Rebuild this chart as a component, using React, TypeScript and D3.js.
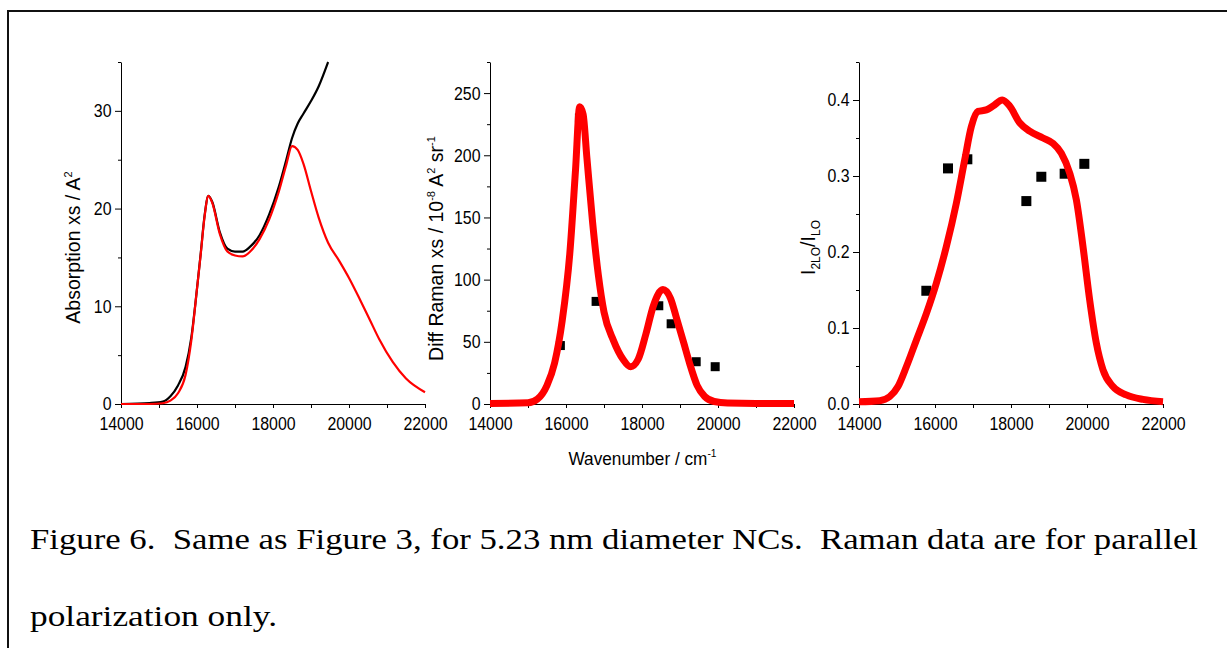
import { useEffect, useRef } from "react";
import * as d3 from "d3";

const W = 1227;
const H = 648;

// panel 1: absorption cross section (black = experiment, red = calculated)
const absWavenumber = [
  14000, 14750, 15100, 15300, 15500, 15700, 15850, 16000, 16100, 16200, 16300,
  16400, 16600, 16800, 17000, 17200, 17400, 17650, 17900, 18150, 18350, 18500,
  18650, 18800, 19000, 19200, 19450, 19750, 20000, 20300, 20550, 20800, 21150,
  21500, 22000,
];
const absExperiment: (number | null)[] = [
  0, 0.1, 0.25, 0.8, 1.9, 3.8, 6.8, 11.8, 15.5, 19.3, 21.3, 20.7, 17.6, 15.9,
  15.6, 15.6, 16.1, 17.3, 19.4, 22.2, 25.0, 27.2, 28.7, 29.7, 31.0, 32.5, 35.0,
  null, null, null, null, null, null, null, null,
];
const absCalculated = [
  0, 0, 0.08, 0.35, 1.1, 3.0, 6.5, 11.8, 15.4, 19.2, 21.3, 20.6, 17.4, 15.6,
  15.2, 15.1, 15.6, 16.9, 18.9, 21.7, 24.5, 26.4, 26.0, 24.6, 21.8, 19.1, 16.5,
  14.6, 12.9, 10.6, 8.6, 6.6, 4.3, 2.6, 1.2,
];

// panel 2: differential Raman cross section
const ramanWavenumber = [
  14000, 15000, 15250, 15500, 15700, 15900, 16100, 16250, 16360, 16450, 16550,
  16700, 16850, 17000, 17250, 17500, 17700, 17900, 18100, 18300, 18550, 18750,
  18900, 19100, 19250, 19450, 19650, 19900, 20250, 21000, 22000,
];
const ramanCalculated = [
  0.5, 1.0, 4, 15, 33, 67, 121, 188, 239, 233, 198, 146, 104, 74, 51, 36, 30,
  36, 56, 79, 92, 85, 70, 49, 33, 15, 6, 2, 0.8, 0.5, 0.5,
];
const ramanPointX = [15852, 16353, 16792, 18442, 18767, 19426, 19926];
const ramanPointY = [47, 230, 82.5, 79, 64.5, 34, 30];

// panel 3: I2LO / ILO ratio
const ratioWavenumber = [
  14000, 14544, 14807, 15026, 15246, 15509, 15772, 16035, 16298, 16561, 16781,
  16956, 17132, 17351, 17526, 17772, 17965, 18228, 18491, 18842, 19105, 19325,
  19544, 19719, 19895, 20070, 20246, 20421, 20684, 21035, 21474, 22000,
];
const ratioCalculated = [
  0.003, 0.0044, 0.0097, 0.023, 0.049, 0.084, 0.119, 0.159, 0.207, 0.264, 0.321,
  0.365, 0.385, 0.387, 0.392, 0.4, 0.392, 0.37, 0.359, 0.35, 0.343, 0.33, 0.304,
  0.269, 0.207, 0.137, 0.08, 0.045, 0.023, 0.012, 0.006, 0.003,
];
const ratioPointX = [15772, 16342, 16851, 18404, 18798, 19412, 19930];
const ratioPointY = [0.149, 0.31, 0.322, 0.267, 0.299, 0.303, 0.316];

const xTicks = [14000, 16000, 18000, 20000, 22000];
const xMinorTicks = [15000, 17000, 19000, 21000];
const absTicks = [0, 10, 20, 30];
const absMinorTicks = [5, 15, 25, 35];
const ramanTicks = [0, 50, 100, 150, 200, 250];
const ramanMinorTicks = [25, 75, 125, 175, 225, 275];
const ratioTicks = [0, 0.1, 0.2, 0.3, 0.4];
const ratioMinorTicks = [0.05, 0.15, 0.25, 0.35, 0.45];

const captionLines = [
  "Figure 6.  Same as Figure 3, for 5.23 nm diameter NCs.  Raman data are for parallel",
  "polarization only.",
];

const SANS = "Liberation Sans, Arimo, Arial, Helvetica, Roboto, sans-serif";
const SERIF = "Liberation Serif, Tinos, Times New Roman, Times, serif";

type TextSel = d3.Selection<SVGTextElement, unknown, null, undefined>;

export default function App() {
  const svgRef = useRef<SVGSVGElement>(null);

  useEffect(() => {
    const svg = d3.select(svgRef.current);
    svg.selectAll("*").remove();

    svg.append("rect").attr("width", W).attr("height", H).attr("fill", "#fff");

    // frame around the figure (only left and top edges visible)
    svg
      .append("path")
      .attr("d", `M8,${H} V11 H${W}`)
      .attr("fill", "none")
      .attr("stroke", "#111")
      .attr("stroke-width", 2);

    const drawPanel = (
      left: number,
      yMax: number,
      ticks: number[],
      minor: number[],
      fmt: (d: number) => string
    ) => {
      const x = d3.scaleLinear().domain([14000, 22000]).range([left, left + 304]);
      const y = d3.scaleLinear().domain([0, yMax]).range([404, 62]);

      // y axis
      const gy = svg
        .append("g")
        .attr("transform", `translate(${left},0)`)
        .attr("color", "#000");
      gy.call(
        d3
          .axisLeft(y)
          .tickValues(ticks)
          .tickSize(6)
          .tickSizeOuter(0)
          //@ts-ignore
          .tickFormat(fmt)
      );
      gy.selectAll("text")
        .attr("x", -11)
        .attr("transform", "scale(0.86,1)")
        .style("font-size", "18.5px")
        .style("font-family", SANS)
        .attr("fill", "#000");
      const gyMinor = svg
        .append("g")
        .attr("transform", `translate(${left},0)`)
        .attr("color", "#000");
      gyMinor.call(
        d3
          .axisLeft(y)
          .tickValues(minor)
          .tickSize(3)
          .tickFormat(() => "")
      );
      gyMinor.select(".domain").remove();
      gyMinor.selectAll("text").remove();

      // x axis
      const gx = svg
        .append("g")
        .attr("transform", "translate(0,404)")
        .attr("color", "#000");
      gx.call(
        d3
          .axisBottom(x)
          .tickValues(xTicks)
          .tickSize(4)
          .tickSizeOuter(0)
          //@ts-ignore
          .tickFormat(d3.format("d"))
      );
      gx.selectAll("text")
        .attr("y", 26.5)
        .attr("dy", 0)
        .attr("transform", "scale(0.86,1)")
        .style("font-size", "18.5px")
        .style("font-family", SANS)
        .attr("fill", "#000");
      const gxMinor = svg
        .append("g")
        .attr("transform", "translate(0,404)")
        .attr("color", "#000");
      gxMinor.call(
        d3
          .axisBottom(x)
          .tickValues(xMinorTicks)
          .tickSize(4)
          .tickFormat(() => "")
      );
      gxMinor.select(".domain").remove();
      gxMinor.selectAll("text").remove();

      return { x, y };
    };

    const lineOf = (
      x: d3.ScaleLinear<number, number>,
      y: d3.ScaleLinear<number, number>,
      xs: number[]
    ) =>
      d3
        .line<number | null>()
        .defined((d) => d !== null)
        .x((_, i) => x(xs[i]))
        .y((d) => y(d as number))
        .curve(d3.curveMonotoneX);

    // ---- panel 1
    const p1 = drawPanel(121, 35, absTicks, absMinorTicks, d3.format("d"));
    svg
      .append("path")
      .attr("d", lineOf(p1.x, p1.y, absWavenumber)(absExperiment))
      .attr("fill", "none")
      .attr("stroke", "#000")
      .attr("stroke-width", 2.2);
    svg
      .append("path")
      .attr("d", lineOf(p1.x, p1.y, absWavenumber)(absCalculated))
      .attr("fill", "none")
      .attr("stroke", "#ff0000")
      .attr("stroke-width", 2.2);

    // ---- panel 2
    const p2 = drawPanel(490, 275, ramanTicks, ramanMinorTicks, d3.format("d"));
    const s2 = 9;
    svg
      .append("g")
      .selectAll("rect")
      .data(ramanPointX)
      .join("rect")
      .attr("x", (d) => p2.x(d) - s2 / 2)
      .attr("y", (_, i) => p2.y(ramanPointY[i]) - s2 / 2)
      .attr("width", s2)
      .attr("height", s2)
      .attr("fill", "#000");
    svg
      .append("path")
      .attr("d", lineOf(p2.x, p2.y, ramanWavenumber)(ramanCalculated))
      .attr("fill", "none")
      .attr("stroke", "#ff0000")
      .attr("stroke-width", 7);

    // ---- panel 3
    const p3 = drawPanel(859, 0.45, ratioTicks, ratioMinorTicks, d3.format(".1f"));
    const s3 = 10;
    svg
      .append("g")
      .selectAll("rect")
      .data(ratioPointX)
      .join("rect")
      .attr("x", (d) => p3.x(d) - s3 / 2)
      .attr("y", (_, i) => p3.y(ratioPointY[i]) - s3 / 2)
      .attr("width", s3)
      .attr("height", s3)
      .attr("fill", "#000");
    svg
      .append("path")
      .attr("d", lineOf(p3.x, p3.y, ratioWavenumber)(ratioCalculated))
      .attr("fill", "none")
      .attr("stroke", "#ff0000")
      .attr("stroke-width", 7);

    // ---- axis titles
    const title = (tx: number, ty: number, rotate: boolean, sx = 1, fs = 19.5) =>
      svg
        .append("text")
        .attr(
          "transform",
          `translate(${tx},${ty}) ${rotate ? "rotate(-90)" : ""} scale(${sx},1)`
        )
        .attr("text-anchor", "middle")
        .style("font-family", SANS)
        .style("font-size", `${fs}px`)
        .attr("fill", "#000");

    // runs of [text, shift]: shift -1 = superscript, 1 = subscript, 0 = normal
    const runs = (t: TextSel, parts: [string, number][]) => {
      let cur = 0;
      parts.forEach(([s, shift]) => {
        const target = shift === -1 ? -8 : shift === 1 ? 5 : 0;
        const ts = t.append("tspan").attr("dy", target - cur).text(s);
        if (shift !== 0) ts.style("font-size", shift === -1 ? "11px" : "12px");
        cur = target;
      });
    };

    runs(title(80, 247.5, true), [
      ["Absorption xs / A", 0],
      ["2", -1],
    ]);
    runs(title(443, 248.5, true), [
      ["Diff Raman xs / 10", 0],
      ["-8", -1],
      [" A", 0],
      ["2", -1],
      [" sr", 0],
      ["-1", -1],
    ]);
    runs(title(815, 247.5, true), [
      ["I", 0],
      ["2LO", 1],
      ["/I", 0],
      ["LO", 1],
    ]);
    runs(title(642.5, 465, false, 0.93, 18.5), [
      ["Wavenumber / cm", 0],
      ["-1", -1],
    ]);

    // ---- caption
    svg
      .selectAll("text.caption")
      .data(captionLines)
      .join("text")
      .attr("class", "caption")
      .attr("x", 30)
      .attr("y", (_, i) => (i === 0 ? 549 : 626))
      .style("font-family", SERIF)
      .style("font-size", "29px")
      .attr("fill", "#000")
      .attr("textLength", (_, i) => (i === 0 ? 1168 : 247))
      .attr("lengthAdjust", "spacingAndGlyphs")
      .style("white-space", "pre")
      .text((d) => d);
  }, []);

  return (
    <svg
      ref={svgRef}
      width={W}
      height={H}
      style={{ position: "absolute", left: 0, top: 0, display: "block" }}
    />
  );
}
